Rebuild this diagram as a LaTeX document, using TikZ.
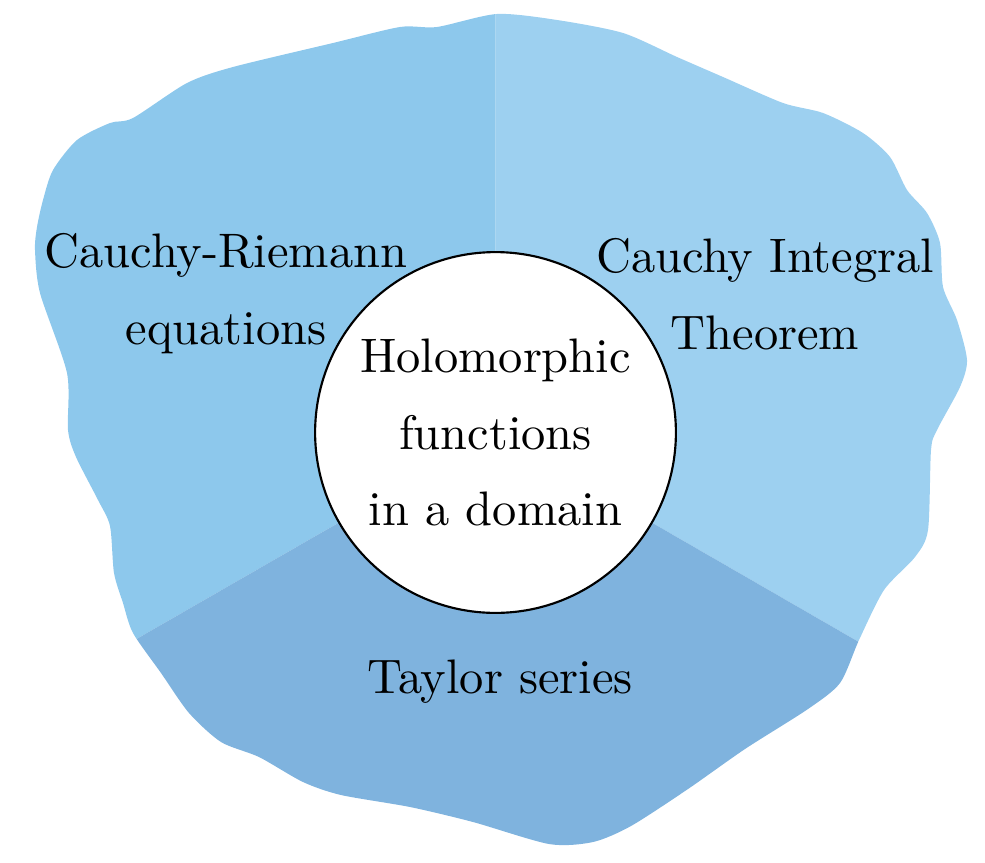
\documentclass[tikz,border=0pt]{standalone}
\usepackage{xcolor}
\definecolor{leftblue}{RGB}{141,200,236}
\definecolor{rightblue}{RGB}{157,208,240}
\definecolor{lowblue}{RGB}{127,179,222}
\begin{document}
\begin{tikzpicture}[x=0.0074cm, y=-0.0074cm,
    main/.style = {draw, circle, fill=white, line width=0.45pt, minimum size=2.67cm, inner sep=0pt, align=center},
    topic/.style = {align=center, font=\fontsize{10.2}{16.2}\selectfont}]
    \useasboundingbox (0,0) rectangle (985,862);
    \coordinate (c) at (495.5,432.5);
    \begin{scope}
    \clip plot[smooth cycle, tension=0.45] coordinates {(497,14) (557,20) (623,33) (677,57) (723,77) (783,103) (823,113) (863,133) (890,157) (907,190) (927,213) (940,243) (943,287) (957,320) (967,360) (960,387) (937,430) (931,450) (928,530) (915,557) (884,590) (859,640) (840,683) (808,709) (745,749) (688,789) (631,826) (593,842) (549,844) (473,822) (410,807) (341,795) (303,782) (259,757) (221,742) (189,713) (161,673) (133,633) (123,603) (114,573) (110,526) (98,500) (76,457) (68,430) (67,373) (40,293) (35,250) (37,227) (43,200) (53,170) (77,140) (110,123) (133,118) (187,83) (233,67) (333,43) (400,27) (437,27)};
    \fill[leftblue] (c) -- (495.5,-100) -- (-100,-100) -- (-100,775) -- cycle;
    \fill[rightblue] (c) -- (495.5,-100) -- (1100,-100) -- (1100,781) -- cycle;
    \fill[lowblue] (c) -- (-100,775) -- (-100,1000) -- (1100,1000) -- (1100,781) -- cycle;
    \end{scope}
    \node[main, topic] (holo) at (c) {Holomorphic\\functions\\in a domain};
    \node[topic] (cr) at (226,294) {Cauchy-Riemann\\equations};
    \node[topic] (ci) at (765,294) {Cauchy Integral\\Theorem};
    \node[topic] (ts) at (500,682) {Taylor series};
\end{tikzpicture}
\end{document}
